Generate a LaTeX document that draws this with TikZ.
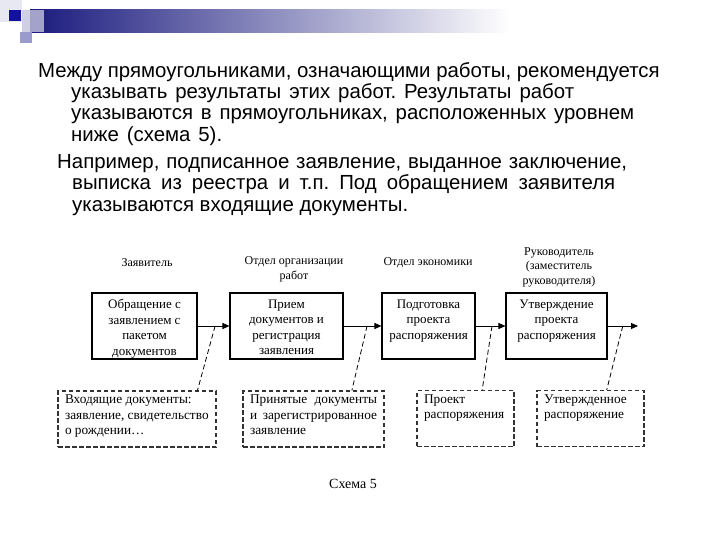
\documentclass[tikz,border=0pt]{standalone}
\usepackage{fontspec}
\setmainfont{Liberation Serif}
\newfontfamily\slidefont{Liberation Sans}
\usetikzlibrary{positioning, arrows.meta, calc}
\definecolor{barblue}{HTML}{1A1A7E}
\definecolor{sqdark}{HTML}{12129C}
\definecolor{sqmid}{HTML}{9A9ACC}
\definecolor{sqlight}{HTML}{C4C4DE}
\definecolor{sqpale}{HTML}{E8E8F2}
\definecolor{dashgrey}{HTML}{333333}

% top-aligned text inside a box of fixed height
\newcommand{\cbox}[2]{\parbox[c][56pt][t]{#1}{\centering\vspace*{1.5pt}#2}}
\newcommand{\lbox}[2]{\parbox[c][48pt][t]{#1}{\raggedright #2}}
% one slide line stretched to its printed width
\newcommand{\fitline}[2]{\makebox[#1][s]{#2}}

\begin{document}
\frenchspacing
\begin{tikzpicture}[
  x=1pt, y=-1pt,
  every node/.style={inner sep=0pt},
  para/.style={font=\slidefont\fontsize{20.4}{21.4}\selectfont\frenchspacing,
               align=left, anchor=north west},
  role/.style={font=\fontsize{12}{14.5}\selectfont, align=center},
  procbox/.style={rectangle, draw=black, line width=1.1pt, inner sep=5pt,
                  font=\fontsize{13}{15.5}\selectfont},
  resbox/.style={rectangle, draw=dashgrey, line width=1.1pt,
                 dash pattern=on 4.5pt off 2.5pt, inner xsep=7pt, inner ysep=4pt,
                 font=\fontsize{13.3}{15.5}\selectfont},
  flow/.style={-{Triangle[length=7pt, width=6pt]}, line width=0.9pt},
  link/.style={dash pattern=on 5pt off 3pt, line width=0.8pt}
]
\useasboundingbox (0,0) rectangle (720,540);

% --- slide header ---
\fill[sqpale]  (0,0)   rectangle (22,22);
\shade[left color=barblue, right color=white] (30,10) rectangle (510,33);
\fill[sqlight, opacity=0.8] (22,10) rectangle (44,32);
\fill[sqdark]  (9,10)  rectangle (21,21);
\fill[sqmid]   (20,32) rectangle (32,43);

% --- slide text ---
\node[para] at (38,62) (p1) {%
  Между прямоугольниками, означающими работы, рекомендуется\\
  \hspace*{33pt}\fitline{503pt}{указывать результаты этих работ. Результаты работ}\\
  \hspace*{33pt}\fitline{563pt}{указываются в прямоугольниках, расположенных уровнем}\\
  \hspace*{33pt}\fitline{151pt}{ниже (схема 5).}};
\node[para] at (57,154) (p2) {%
  \fitline{570pt}{Например, подписанное заявление, выданное заключение,}\\
  \hspace*{15pt}\fitline{543pt}{выписка из реестра и т.п. Под обращением заявителя}\\
  \hspace*{15pt}указываются входящие документы.};

% --- roles ---
\node[role] at (147,263)   (r1) {Заявитель};
\node[role] at (294,269.5) (r2) {Отдел организации\\работ};
\node[role] at (428,263)   (r3) {Отдел экономики};
\node[role] at (559,267)   (r4) {Руководитель\\(заместитель\\руководителя)};

% --- works ---
\node[procbox] at (144.5,326) (b1) {\cbox{95pt}{Обращение с\\заявлением с\\пакетом\\документов}};
\node[procbox] at (286.5,326) (b2) {\cbox{103pt}{Прием\\документов и\\регистрация\\заявления}};
\node[procbox] at (428.5,326) (b3) {\cbox{83pt}{Подготовка\\проекта\\распоряжения}};
\node[procbox] at (556.5,326) (b4) {\cbox{91pt}{Утверждение\\проекта\\распоряжения}};
\coordinate (out) at (638,326);

% --- results ---
\node[resbox] at (137,419)     (d1) {\lbox{144pt}{Входящие документы:\\заявление, свидетельство\\о рождении\dots}};
\node[resbox] at (313.5,419)   (d2) {\lbox{127pt}{\makebox[127pt][s]{Принятые документы}\\
  \makebox[127pt][s]{и зарегистрированное}\\заявление}};
\node[resbox] at (465.5,418.5) (d3) {\lbox{83pt}{Проект\\распоряжения}};
\node[resbox] at (590.5,418.5) (d4) {\lbox{93pt}{Утвержденное\\распоряжение}};

% --- arrows between works ---
\draw[flow] (b1) -- (b2);
\draw[flow] (b2) -- (b3);
\draw[flow] (b3) -- (b4);
\draw[flow] (b4) -- (out);

% --- links to results ---
\draw[link] ($(b1.east)!0.55!(b2.west)$) -- ($(d1.north west)!0.88!(d1.north east)$);
\draw[link] ($(b2.east)!0.62!(b3.west)$) -- ($(d2.north west)!0.77!(d2.north east)$);
\draw[link] ($(b3.east)!0.55!(b4.west)$) -- ($(d3.north west)!0.67!(d3.north east)$);
\draw[link] ($(b4.east)!0.5!(out)$)      -- ($(d4.north west)!0.65!(d4.north east)$);

\node[font=\fontsize{14}{16}\selectfont] at (353,484) (cap) {Схема 5};
\end{tikzpicture}
\end{document}
